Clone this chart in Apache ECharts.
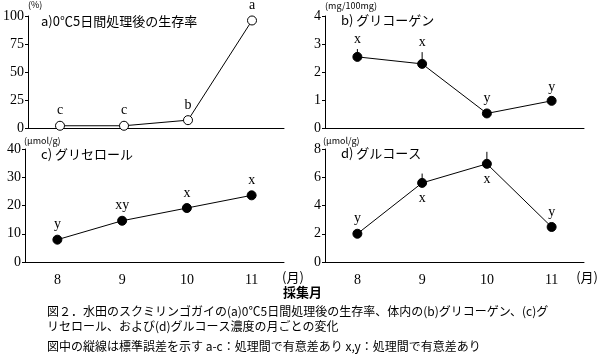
<!DOCTYPE html>
<html><head><meta charset="utf-8">
<script src="https://cdn.jsdelivr.net/npm/echarts@6/dist/echarts.min.js"></script>
<style>html,body{margin:0;padding:0;background:#fff}#c{width:600px;height:363px}</style>
</head><body><div id="c"></div>
<script>
const months = ['8', '9', '10', '11'];
const survival = [2, 2, 7, 96];
const survivalErr = [0, 0, 0, 0];
const survivalLetters = ['c', 'c', 'b', 'a'];
const glycogen = [2.54, 2.29, 0.52, 0.97];
const glycogenErr = [0.28, 0.42, 0, 0.14];
const glycogenLetters = ['x', 'x', 'y', 'y'];
const glycerol = [7.9, 14.6, 19.1, 23.6];
const glycerolErr = [0, 0, 0, 0];
const glycerolLetters = ['y', 'xy', 'x', 'x'];
const glucose = [2.0, 5.6, 6.95, 2.48];
const glucoseErr = [0, 0.66, 0.85, 0];
const glucoseLetters = ['y', 'x', 'x', 'y'];
const glucoseLetterBelow = [false, true, true, false];
const yTicks = [[0, 100, 25], [0, 4, 1], [0, 40, 10], [0, 8, 2]];

const FONT = "'Liberation Serif','Noto Sans CJK JP',serif";
const JFONT = "'Noto Sans CJK JP',sans-serif";

const grids = [
  {left: 25, top: 16, width: 259, height: 112},
  {left: 325, top: 16, width: 259, height: 112},
  {left: 25, top: 149, width: 259, height: 113},
  {left: 325, top: 149, width: 259, height: 113}
];
const panels = [
  {vals: survival, err: survivalErr, letters: survivalLetters, below: [false,false,false,false], open: true},
  {vals: glycogen, err: glycogenErr, letters: glycogenLetters, below: [false,false,false,false]},
  {vals: glycerol, err: glycerolErr, letters: glycerolLetters, below: [false,false,false,false]},
  {vals: glucose, err: glucoseErr, letters: glucoseLetters, below: glucoseLetterBelow}
];

const xAxes = grids.map((g, i) => ({
  type: 'category', gridIndex: i, data: months, boundaryGap: true,
  axisLine: {lineStyle: {color: '#000', width: 1}},
  axisTick: {inside: true, length: 4, lineStyle: {color: '#000'}},
  axisLabel: {show: i >= 2, color: '#000', fontSize: 14, fontFamily: FONT, margin: 11},
  splitLine: {show: false}
}));
const yAxes = grids.map((g, i) => ({
  type: 'value', gridIndex: i, min: yTicks[i][0], max: yTicks[i][1], interval: yTicks[i][2],
  axisLine: {show: true, lineStyle: {color: '#000', width: 1}},
  axisTick: {show: true, length: 3, lineStyle: {color: '#000'}},
  axisLabel: {color: '#000', fontSize: 14, fontFamily: FONT, margin: 4},
  splitLine: {show: false}
}));

const series = [];
panels.forEach((p, i) => {
  series.push({
    type: 'line', xAxisIndex: i, yAxisIndex: i, data: p.vals,
    symbol: 'circle', symbolSize: 9,
    itemStyle: p.open ? {color: '#fff', borderColor: '#000', borderWidth: 1} : {color: '#000', borderColor: '#000'},
    lineStyle: {color: '#000', width: 1}, z: 3, animation: false
  });
  series.push({
    type: 'custom', xAxisIndex: i, yAxisIndex: i, z: 2, animation: false,
    data: p.vals.map((v, k) => [k, v, p.err[k]]),
    renderItem: function (params, api) {
      const k = api.value(0), v = api.value(1), e = api.value(2);
      const base = api.coord([k, v]);
      const top = api.coord([k, v + e]);
      const children = [];
      if (e > 0) {
        children.push({type: 'line', shape: {x1: base[0], y1: base[1], x2: top[0], y2: top[1]},
          style: {stroke: '#000', lineWidth: 1}});
      }
      const below = p.below[k];
      const ty = below ? base[1] + 15 : (e > 0 ? top[1] - 10 : base[1] - 15);
      children.push({type: 'text', style: {text: p.letters[k], x: base[0], y: ty,
        align: 'center', verticalAlign: 'middle', fontSize: 14, fontFamily: FONT, fill: '#000'}});
      return {type: 'group', children: children};
    }
  });
});

function txt(x, y, t, size, opts) {
  return Object.assign({type: 'text', left: x, top: y, style: {text: t, fontSize: size, fontFamily: JFONT, fill: '#000'}}, opts || {});
}
const graphic = [
  txt(28, 0, '(%)', 9),
  txt(41, 15, 'a)0℃5日間処理後の生存率', 13),
  txt(325, 1, '(mg/100mg)', 9),
  txt(341, 14, 'b) グリコーゲン', 13),
  txt(24, 136, '(μmol/g)', 9),
  txt(41, 148, 'c) グリセロール', 13),
  txt(323, 136, '(μmol/g)', 9),
  txt(341, 147, 'd) グルコース', 13),
  txt(282, 271, '(月)', 13),
  {type: 'text', right: 2, top: 271, style: {text: '(月)', fontSize: 13, fontFamily: JFONT, fill: '#000'}},
  {type: 'text', left: 283, top: 286, style: {text: '採集月', fontSize: 13, fontWeight: 'bold', fontFamily: JFONT, fill: '#000'}},
  txt(47, 305, '図２．水田のスクミリンゴガイの(a)0℃5日間処理後の生存率、体内の(b)グリコーゲン、(c)グ', 12),
  txt(47, 320, 'リセロール、および(d)グルコース濃度の月ごとの変化', 12),
  txt(47, 340, '図中の縦線は標準誤差を示す a-c：処理間で有意差あり x,y：処理間で有意差あり', 12)
];

const chart = echarts.init(document.getElementById('c'), null, {renderer: 'canvas'});
chart.setOption({
  animation: false, backgroundColor: '#fff',
  grid: grids, xAxis: xAxes, yAxis: yAxes, series: series, graphic: graphic
});
</script></body></html>
